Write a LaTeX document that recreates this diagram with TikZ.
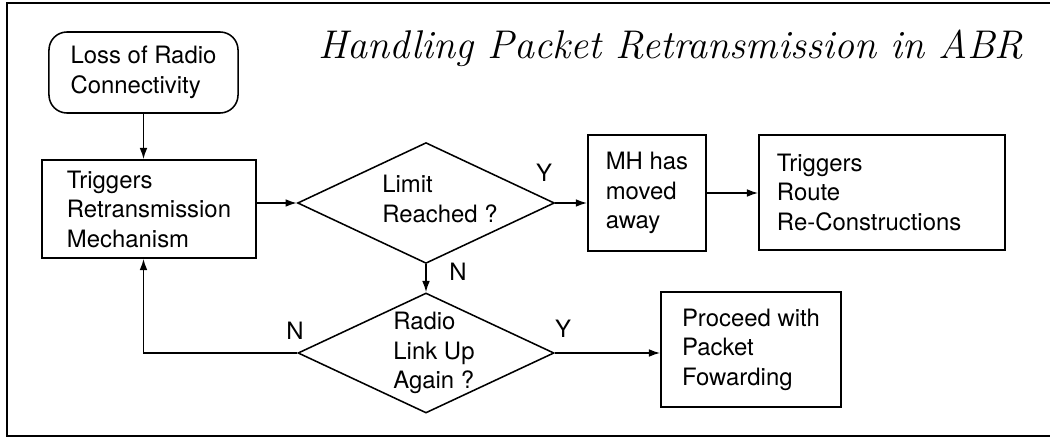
\documentclass[tikz,border=0pt]{standalone}
\usepackage{fontspec}
\newfontfamily\helv{TeX Gyre Heros}
\usetikzlibrary{shapes.geometric,arrows.meta}

\begin{document}
\begin{tikzpicture}[x=0.025cm,y=-0.025cm,>={Latex[length=8pt,width=5.5pt]},
    every node/.style={font=\helv\fontsize{17}{21}\selectfont},
    box/.style={draw,line width=1.1pt,align=left,inner xsep=0.45cm,inner ysep=0pt},
    decision/.style={draw,diamond,line width=1.1pt,inner sep=0pt,
        minimum width=6.42cm,minimum height=3.02cm},
    every label/.style={align=left,font=\helv\fontsize{17}{21}\selectfont},
    every path/.style={line width=1.1pt}]
    \useasboundingbox (0,0) rectangle (1050,438);
    \draw[line width=1.8pt] (1050,3) -- (7,3) -- (7,436) -- (1050,436);
    \node (title) [font=\rmfamily\itshape\fontsize{28.5}{32}\selectfont,anchor=base] at (671,59) {Handling Packet Retransmission in ABR};
    \node (loss) [box,rounded corners=0.45cm,minimum width=4.725cm,minimum height=2.025cm] at (143.5,72.5) {Loss of Radio\\Connectivity};
    \node (trig) [box,minimum width=5.35cm,minimum height=2.45cm] at (149,209) {Triggers\\Retransmission\\Mechanism};
    \node (limit) [decision,label={[xshift=0.35cm,yshift=0.1cm]center:Limit\\Reached ?}] at (426,203) {};
    \node (link) [decision,minimum width=6.4cm,minimum height=3cm,label={[xshift=0.2cm]center:Radio\\Link Up\\Again ?}] at (426,353) {};
    \node (moved) [box,minimum width=2.95cm,minimum height=2.9cm] at (647,193) {MH has\\moved\\away};
    \node (route) [box,text width=5.25cm,minimum height=2.875cm] at (882,192.5) {Triggers\\Route\\Re-Constructions};
    \node (proceed) [box,minimum width=4.5cm,minimum height=2.875cm] at (751,349.5) {Proceed with\\Packet\\Fowarding};
    \node (ylimit) at (544,173) {Y};
    \node (nlimit) at (458,272) {N};
    \node (nlink) at (295,331) {N};
    \node (ylink) at (563,329) {Y};
    \draw[->] (loss.south) -- (loss.south |- trig.north);
    \draw[->] (trig.east |- limit.west) -- (limit.west);
    \draw[->] (limit.east) -- (limit.east -| moved.west);
    \draw[->] (moved.east) -- (moved.east -| route.west);
    \draw[->] (limit.south) -- (link.north);
    \draw[->] (link.east) -- (link.east -| proceed.west);
    \draw[->] (link.west) -| (loss.south |- trig.south);
\end{tikzpicture}
\end{document}
